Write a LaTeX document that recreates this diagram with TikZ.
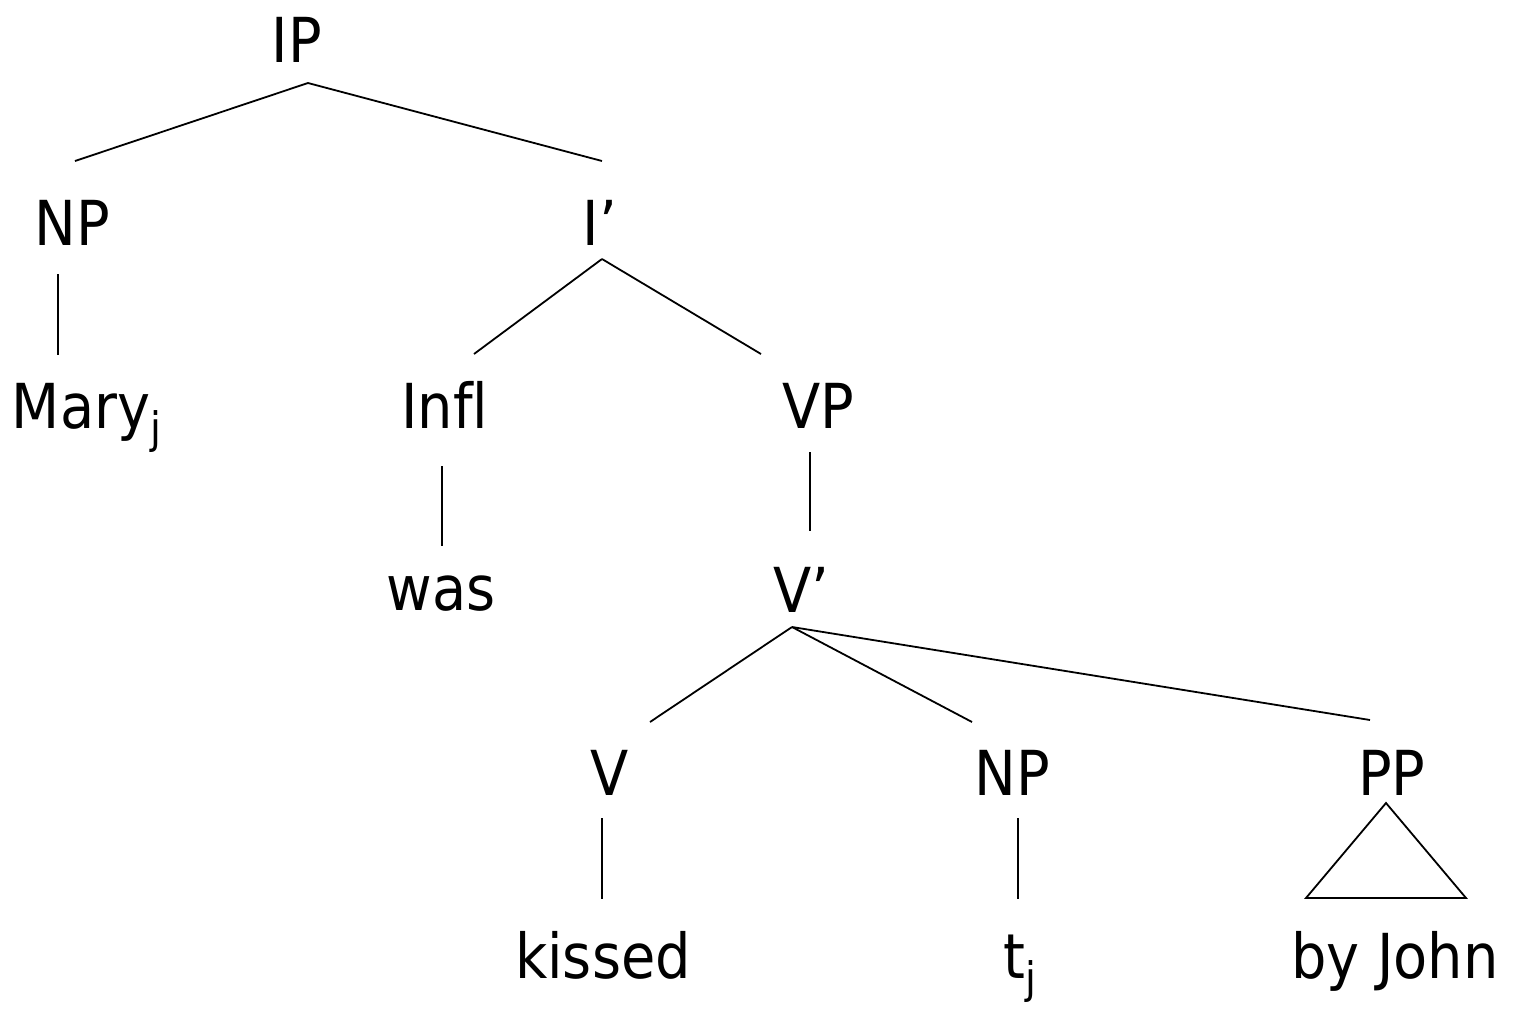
\documentclass[tikz,border=0pt]{standalone}
\usepackage{fontspec}
\setmainfont{DejaVu Sans Condensed}[Ligatures=NoCommon]
\usetikzlibrary{calc}
\begin{document}
\begin{tikzpicture}[x=0.5pt,y=-0.5pt,
  lbl/.style={anchor=base,inner sep=0pt,font=\fontsize{31}{37}\selectfont},
  edge/.style={line width=0.9pt,black}]
\useasboundingbox (0,0) rectangle (1522,1013);
\node[lbl] (IP) at (297,62) {IP};
\node[lbl] (NPa) at (72,245) {NP};
\node[lbl] (Ibar) at (600,245) {I’};
\node[lbl] (Mary) at (87,428) {Mary\textsubscript{j}};
\node[lbl] (Infl) at (445,428) {Infl};
\node[lbl] (VP) at (818,428) {VP};
\node[lbl] (was) at (441,610) {was};
\node[lbl] (Vbar) at (801,612) {V’};
\node[lbl] (V) at (610,795) {V};
\node[lbl] (NPb) at (1012,795) {NP};
\node[lbl] (PP) at (1392,795) {PP};
\node[lbl] (kissed) at (603,978) {kissed};
\node[lbl] (tj) at (1020,978) {t\textsubscript{j}};
\node[lbl] (byJohn) at (1395,978) {by John};
\draw[edge] ($(IP.base)+(11,21)$) -- ($(NPa.base)+(3,-84)$);
\draw[edge] ($(IP.base)+(11,21)$) -- ($(Ibar.base)+(2,-84)$);
\draw[edge] ($(NPa.base)+(-14,29)$) -- ($(Mary.base)+(-29,-73)$);
\draw[edge] ($(Ibar.base)+(2,14)$) -- ($(Infl.base)+(29,-74)$);
\draw[edge] ($(Ibar.base)+(2,14)$) -- ($(VP.base)+(-57,-74)$);
\draw[edge] ($(Infl.base)+(-3,38)$) -- ($(was.base)+(1,-64)$);
\draw[edge] ($(VP.base)+(-8,24)$) -- ($(Vbar.base)+(9,-81)$);
\draw[edge] ($(Vbar.base)+(-9,15)$) -- ($(V.base)+(40,-73)$);
\draw[edge] ($(Vbar.base)+(-9,15)$) -- ($(NPb.base)+(-40,-73)$);
\draw[edge] ($(Vbar.base)+(-9,15)$) -- ($(PP.base)+(-22,-75)$);
\draw[edge] ($(V.base)+(-8,23)$) -- ($(kissed.base)+(-1,-79)$);
\draw[edge] ($(NPb.base)+(6,23)$) -- ($(tj.base)+(-2,-79)$);
\draw[edge,line join=miter] ($(PP.base)+(-6,8)$) -- ($(PP.base)+(-86,103)$) -- ($(PP.base)+(74,103)$) -- cycle;
\end{tikzpicture}
\end{document}
